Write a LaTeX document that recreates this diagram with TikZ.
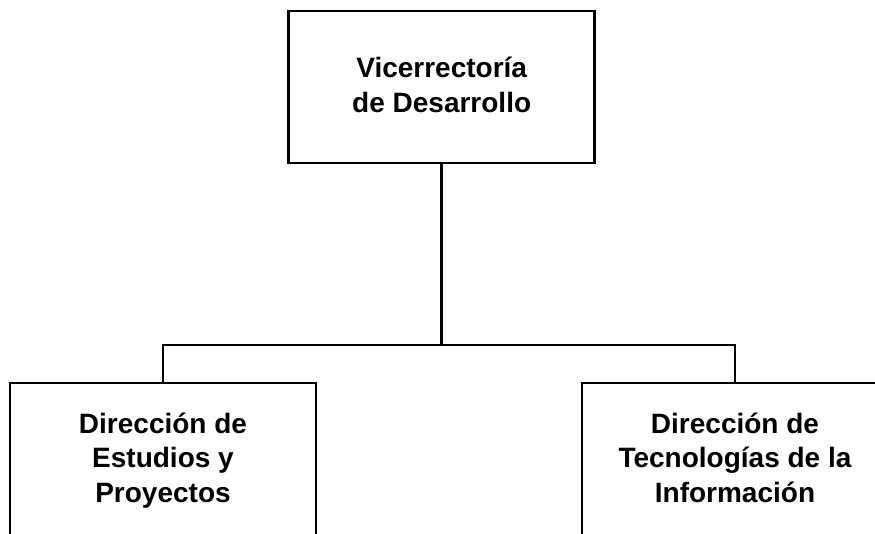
\documentclass[tikz,border=0pt]{standalone}
\usepackage{fontspec}
\setmainfont{Liberation Sans}
\newcommand{\topstrut}{\rule{0pt}{30pt}}
\newcommand{\botstrut}[1]{\rule[-#1]{0pt}{#1}}
\begin{document}
\begin{tikzpicture}[x=1pt,y=-1pt,
  box/.style={draw=black, line width=2.8pt, minimum width=306pt, minimum height=152pt,
    align=center, inner sep=0pt, font=\bfseries\fontsize{28}{34.3}\selectfont},
  conn/.style={draw=black, line width=2.8pt}]
\useasboundingbox (0,0) rectangle (875,533);
\clip (0,0) rectangle (875,533);
\node[box] (top) at (441.7,87) {\topstrut Vicerrectoría\\de Desarrollo\botstrut{14pt}};
\node[box] (left) at (163,459) {\topstrut Dirección de\\Estudios y\\Proyectos\botstrut{12.4pt}};
\node[box] (right) at (735,459) {\topstrut Dirección de\\Tecnologías de la\\Información\botstrut{12.4pt}};
\coordinate (bus) at (441.7,345);
\draw[conn] (top.south) -- (bus);
\draw[conn] (left.north) -- (left.north |- bus) -- (right.north |- bus) -- (right.north);
\end{tikzpicture}
\end{document}
